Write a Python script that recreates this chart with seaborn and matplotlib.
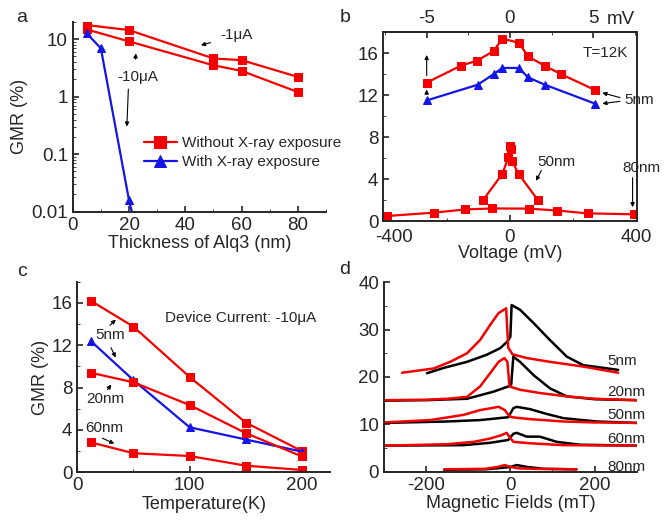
import matplotlib
matplotlib.use("Agg")
import matplotlib.pyplot as plt
import matplotlib.ticker as mticker
import matplotlib.transforms as mtransforms
import numpy as np
import seaborn as sns

# ---- panel a: GMR vs Alq3 thickness (log scale) ----
thick_nm = [5, 20, 50, 60, 80]
gmr_1uA = [17.5, 14.3, 4.6, 4.3, 2.2]
gmr_10uA = [14.7, 9.1, 3.5, 2.8, 1.2]
thick_xray = [5, 10, 20, 30]
gmr_xray = [12.5, 6.9, 0.0158, 0.00016]

# ---- panel b: GMR vs bias voltage ----
v_5nm = [-263, -156, -104, -52, -24, 28, 57, 110, 162, 268]
gmr_v_5nm = [13.2, 14.8, 15.3, 16.2, 17.4, 17.0, 15.7, 14.8, 14.0, 12.5]
v_5nm_x = [-263, -102, -52, -24, 28, 57, 110, 268]
gmr_v_5nm_x = [11.5, 13.0, 14.0, 14.6, 14.6, 13.7, 13.0, 11.2]
v_50nm = [-85, -24, -5, 0, 4, 7, 27, 88]
gmr_v_50nm = [2.0, 4.5, 6.1, 7.2, 6.9, 5.7, 4.5, 2.0]
v_80nm = [-387, -240, -142, -56, 61, 149, 245, 392]
gmr_v_80nm = [0.48, 0.8, 1.1, 1.2, 1.18, 1.0, 0.73, 0.64]

# ---- panel c: GMR vs temperature ----
temp_K = [12, 50, 100, 150, 200]
gmr_t_5nm = [16.2, 13.75, 9.0, 4.7, 2.0]
gmr_t_5nm_x = [12.4, 8.7, 4.25, 3.1, 1.95]
gmr_t_20nm = [9.4, 8.5, 6.35, 3.7, 1.5]
gmr_t_60nm = [2.83, 1.8, 1.54, 0.63, 0.22]

# ---- panel d: MR traces (offset) ----
b_5_red = [-257, -182, -143, -103, -72, -48, -28, -10, -5, 5, 39, 94, 173, 256]
r_5_red = [20.9, 21.8, 23.2, 25.0, 27.8, 31.0, 33.5, 34.5, 26.2, 24.8, 24.0, 23.2, 22.2, 20.9]
b_5_blk = [-198, -159, -103, -56, -24, -7, 0, 3, 23, 55, 94, 134, 173, 256]
r_5_blk = [20.8, 21.9, 23.2, 24.7, 26.1, 27.5, 28.5, 35.2, 34.2, 31.4, 27.8, 24.3, 22.5, 21.5]
b_20_red = [-300, -200, -150, -103, -72, -48, -28, -14, -7, -2, 23, 71, 134, 200, 300]
r_20_red = [15.1, 15.2, 15.4, 15.8, 18.0, 20.8, 23.2, 24.0, 23.2, 18.0, 17.3, 16.6, 15.9, 15.4, 15.1]
b_20_blk = [-300, -200, -103, -40, -5, 2, 7, 23, 55, 94, 134, 200, 300]
r_20_blk = [15.0, 15.1, 15.4, 16.9, 18.0, 18.4, 24.3, 23.2, 20.4, 17.6, 15.9, 15.3, 15.1]
b_50_red = [-300, -190, -111, -72, -28, -13, -5, 3, 47, 126, 200, 300]
r_50_red = [10.4, 10.9, 12.0, 13.0, 13.7, 13.0, 12.0, 11.5, 11.1, 10.6, 10.4, 10.3]
b_50_blk = [-300, -150, -72, -5, 7, 15, 47, 86, 126, 205, 300]
r_50_blk = [10.3, 10.6, 10.9, 11.5, 13.4, 13.7, 13.2, 12.2, 11.3, 10.6, 10.3]
b_60_red = [-300, -150, -87, -48, -20, -9, 1, 7, 47, 126, 300]
r_60_red = [5.5, 5.8, 6.3, 7.0, 7.75, 8.2, 7.0, 6.3, 6.0, 5.6, 5.5]
b_60_blk = [-300, -111, -48, -5, 7, 15, 39, 70, 110, 165, 300]
r_60_blk = [5.5, 5.6, 6.1, 6.7, 8.0, 8.2, 7.4, 7.4, 6.3, 5.7, 5.5]
b_80_red = [-157, -60, -30, -13, 0, 20, 60, 157]
r_80_red = [0.5, 0.6, 1.0, 1.4, 1.0, 0.7, 0.6, 0.5]
b_80_blk = [-157, -60, -20, 0, 15, 40, 80, 157]
r_80_blk = [0.4, 0.5, 0.8, 1.0, 1.4, 1.0, 0.6, 0.5]

sns.set_style("ticks")
plt.rcParams["font.family"] = ["Liberation Sans", "DejaVu Sans"]
plt.rcParams["axes.unicode_minus"] = False
plt.rcParams["axes.linewidth"] = 1.4
plt.rcParams["xtick.direction"] = "in"
plt.rcParams["ytick.direction"] = "in"
plt.rcParams["xtick.major.size"] = 4
plt.rcParams["ytick.major.size"] = 4
plt.rcParams["xtick.minor.size"] = 2.5
plt.rcParams["ytick.minor.size"] = 2.5
plt.rcParams["xtick.major.width"] = 1.2
plt.rcParams["ytick.major.width"] = 1.2
plt.rcParams["xtick.labelsize"] = 13.5
plt.rcParams["ytick.labelsize"] = 13.5
plt.rcParams["axes.labelsize"] = 13

RED = "#f40000"
BLUE = "#1414e6"
AFS = 11
arrow = dict(arrowstyle="-|>", color="black", lw=0.8, mutation_scale=6)

fig = plt.figure(figsize=(6.71, 5.22), dpi=100)
ax_a = fig.add_axes([0.1084, 0.5944, 0.3774, 0.364])
ax_b = fig.add_axes([0.5712, 0.5766, 0.3777, 0.3615])
ax_c = fig.add_axes([0.1152, 0.0952, 0.3766, 0.3652])
ax_d = fig.add_axes([0.5723, 0.0964, 0.3766, 0.3628])


def line(ax, x, y, color, marker=None, ms=5.5, label=None, lw=1.6):
    sns.lineplot(x=x, y=y, ax=ax, color=color, marker=marker, markersize=ms,
                 markeredgecolor=color, linewidth=lw, sort=False,
                 estimator=None, label=label, legend=False)


# ---------- a ----------
line(ax_a, thick_nm, gmr_1uA, RED, "s", label="Without X-ray exposure")
line(ax_a, thick_nm, gmr_10uA, RED, "s")
line(ax_a, thick_xray, gmr_xray, BLUE, "^", label="With X-ray exposure")
ax_a.set_yscale("log")
ax_a.set_ylim(0.01, 20)
ax_a.set_xlim(0, 90)
ax_a.set_xticks([0, 20, 40, 60, 80])
ax_a.xaxis.set_minor_locator(mticker.MultipleLocator(10))
ax_a.yaxis.set_major_locator(mticker.FixedLocator([0.01, 0.1, 1, 10]))
ax_a.yaxis.set_major_formatter(mticker.FuncFormatter(lambda v, p: f"{v:g}"))
ax_a.yaxis.set_minor_locator(mticker.LogLocator(base=10, subs=np.arange(2, 10)))
ax_a.yaxis.set_minor_formatter(mticker.NullFormatter())
ax_a.set_xlabel("Thickness of Alq3 (nm)", labelpad=1)
ax_a.set_ylabel("GMR (%)", labelpad=2)
h, l = ax_a.get_legend_handles_labels()
ax_a.legend(h[:1] + h[-1:], [l[0], l[-1]], loc="center left", bbox_to_anchor=(0.25, 0.31),
            frameon=False, fontsize=AFS, handlelength=2.2, markerscale=1.6,
            handletextpad=0.3, labelspacing=0.35, borderpad=0)
ax_a.text(52.4, 11.7, "-1μA", fontsize=AFS, ha="left", va="center")
ax_a.annotate("", xy=(44.6, 7.6), xytext=(49.9, 8.9), arrowprops=arrow)
ax_a.text(15.8, 2.2, "-10μA", fontsize=AFS, ha="left", va="center")
ax_a.annotate("", xy=(22.5, 6.3), xytext=(22.2, 4.0), arrowprops=arrow)
ax_a.annotate("", xy=(19.2, 0.27), xytext=(19.8, 1.5), arrowprops=arrow)
sns.despine(ax=ax_a)

# ---------- b ----------
line(ax_b, v_5nm, gmr_v_5nm, RED, "s")
line(ax_b, v_5nm_x, gmr_v_5nm_x, BLUE, "^")
line(ax_b, v_50nm, gmr_v_50nm, RED, "s")
line(ax_b, v_80nm, gmr_v_80nm, RED, "s")
ax_b.set_xlim(-400, 400)
ax_b.set_ylim(0, 18)
ax_b.set_xticks([-400, 0, 400])
ax_b.xaxis.set_minor_locator(mticker.MultipleLocator(200))
ax_b.set_yticks([0, 4, 8, 12, 16])
ax_b.yaxis.set_minor_locator(mticker.MultipleLocator(2))
ax_b.tick_params(axis="x", pad=6)
ax_b.set_xlabel("Voltage (mV)", labelpad=-1)
ax_b.tick_params(right=False)
# the -400 label sits a little right of its tick in the original
first = ax_b.get_xticklabels()[0]
first.set_transform(first.get_transform() + mtransforms.ScaledTranslation(8 / 72, 0, fig.dpi_scale_trans))
top = ax_b.secondary_xaxis("top", functions=(lambda v: v / 52.6, lambda t: t * 52.6))
top.set_xticks([-5, 0, 5])
top.set_xticklabels(["-5", "0", "5"])
top.xaxis.set_minor_locator(mticker.MultipleLocator(2.5))
top.tick_params(direction="in", which="both")
ax_b.text(0.883, 1.025, "mV", transform=ax_b.transAxes, fontsize=13.5, ha="left", va="bottom")
ax_b.text(230, 16.0, "T=12K", fontsize=AFS, ha="left", va="center")
ax_b.text(362, 11.55, "5nm", fontsize=AFS, ha="left", va="center")
ax_b.annotate("", xy=(283, 12.3), xytext=(356, 11.7), arrowprops=arrow)
ax_b.annotate("", xy=(283, 11.16), xytext=(356, 11.45), arrowprops=arrow)
ax_b.text(87, 5.6, "50nm", fontsize=AFS, ha="left", va="center")
ax_b.annotate("", xy=(78, 3.6), xytext=(103, 5.06), arrowprops=arrow)
ax_b.text(355, 5.05, "80nm", fontsize=AFS, ha="left", va="center")
ax_b.annotate("", xy=(387, 1.05), xytext=(387, 4.4), arrowprops=arrow)
ax_b.annotate("", xy=(-263, 16.1), xytext=(-263, 13.6), arrowprops=arrow)
ax_b.annotate("", xy=(-263, 12.8), xytext=(-263, 11.9), arrowprops=arrow)

# ---------- c ----------
line(ax_c, temp_K, gmr_t_5nm, RED, "s")
line(ax_c, temp_K, gmr_t_5nm_x, BLUE, "^")
line(ax_c, temp_K, gmr_t_20nm, RED, "s")
line(ax_c, temp_K, gmr_t_60nm, RED, "s")
ax_c.set_xlim(0, 225)
ax_c.set_ylim(0, 18)
ax_c.set_xticks([0, 100, 200])
ax_c.xaxis.set_minor_locator(mticker.MultipleLocator(50))
ax_c.set_yticks([0, 4, 8, 12, 16])
ax_c.yaxis.set_minor_locator(mticker.MultipleLocator(2))
ax_c.set_xlabel("Temperature(K)", labelpad=1)
ax_c.set_ylabel("GMR (%)", labelpad=2)
ax_c.text(77.9, 14.6, "Device Current: -10μA", fontsize=AFS, ha="left", va="center")
ax_c.text(15.7, 12.95, "5nm", fontsize=AFS, ha="left", va="center")
ax_c.annotate("", xy=(36.1, 14.6), xytext=(27.2, 13.7), arrowprops=arrow)
ax_c.annotate("", xy=(35.2, 10.6), xytext=(29, 12.0), arrowprops=arrow)
ax_c.text(7.7, 6.9, "20nm", fontsize=AFS, ha="left", va="center")
ax_c.annotate("", xy=(31.7, 8.5), xytext=(25.5, 7.6), arrowprops=arrow)
ax_c.text(6.9, 4.2, "60nm", fontsize=AFS, ha="left", va="center")
ax_c.annotate("", xy=(35.2, 2.6), xytext=(20.1, 3.33), arrowprops=arrow)
sns.despine(ax=ax_c)

# ---------- d ----------
for bx, rx, by, ry in [(b_5_blk, r_5_blk, b_5_red, r_5_red),
                       (b_20_blk, r_20_blk, b_20_red, r_20_red),
                       (b_50_blk, r_50_blk, b_50_red, r_50_red),
                       (b_60_blk, r_60_blk, b_60_red, r_60_red),
                       (b_80_blk, r_80_blk, b_80_red, r_80_red)]:
    line(ax_d, bx, rx, "black", lw=1.8)
    line(ax_d, by, ry, RED, lw=1.8)
ax_d.set_xlim(-300, 300)
ax_d.set_ylim(0, 40)
ax_d.set_xticks([-200, 0, 200])
ax_d.xaxis.set_minor_locator(mticker.MultipleLocator(100))
ax_d.set_yticks([0, 10, 20, 30, 40])
ax_d.yaxis.set_minor_locator(mticker.MultipleLocator(5))
ax_d.set_xlabel("Magnetic Fields (mT)", labelpad=1)
for lab, yv in [("5nm", 23.4), ("20nm", 16.8), ("50nm", 12.0), ("60nm", 6.9), ("80nm", 1.0)]:
    ax_d.text(230, yv, lab, fontsize=AFS, ha="left", va="center")
sns.despine(ax=ax_d)

for lab, x, y in [("a", 22, 18), ("b", 345, 18), ("c", 22, 272), ("d", 345, 270)]:
    fig.text(x / 671, 1 - y / 522, lab, fontsize=14, ha="center", va="center")

fig.savefig("out.png", dpi=100)
